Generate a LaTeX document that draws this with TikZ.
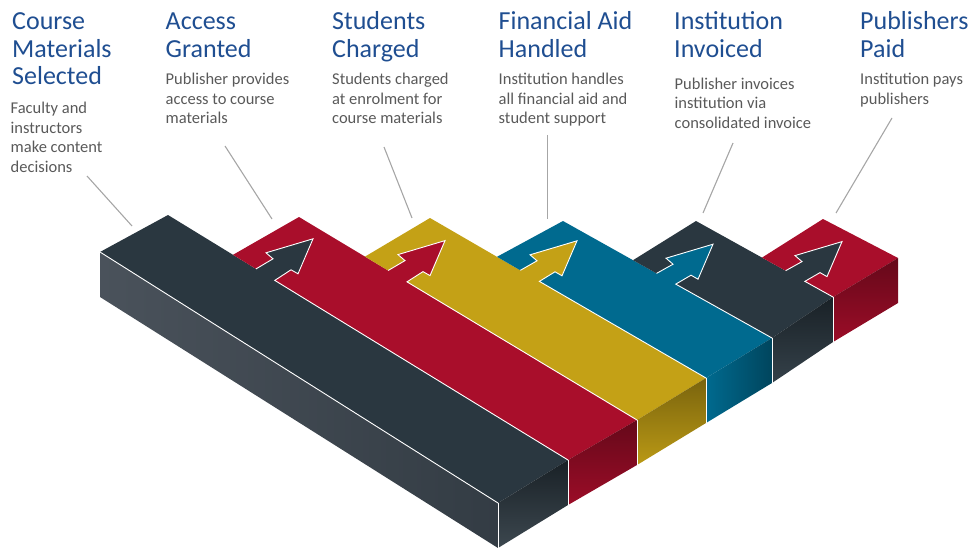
\documentclass[tikz,border=0pt]{standalone}
\usepackage{fontspec}
\setmainfont{Carlito}
\usetikzlibrary{calc}

\definecolor{headblue}{HTML}{1F4E91}
\definecolor{bodygrey}{HTML}{595959}
\definecolor{leadergrey}{HTML}{A6A6A6}
\definecolor{slate}{HTML}{2A3740}
\definecolor{crimson}{HTML}{A90E2B}
\definecolor{ochre}{HTML}{C4A116}
\definecolor{barblue}{HTML}{006A8F}
\definecolor{sideA}{HTML}{4A525B}
\definecolor{sideB}{HTML}{3D4A52}
\definecolor{sideC}{HTML}{333C44}

% stacked lines whose baseline is the baseline of the first line
\newcommand\rows[1]{\vtop{\lineskiplimit=-40pt\lineskip=0pt\halign{##\hfil\cr#1\crcr}}}

\tikzset{
  heading/.style={font=\fontsize{26}{27.5}\selectfont, text=headblue, inner sep=0pt, anchor=base west},
  blurb/.style={font=\fontsize{16.5}{19.5}\selectfont, text=bodygrey, inner sep=0pt, anchor=base west},
  leader/.style={draw=leadergrey, line width=1.1pt},
  seam/.style={draw=white, line width=0.9pt, line join=miter},
  rf0/.style={top color=black!40!slate, bottom color=slate!90!white!95!black},
  rf1/.style={top color=crimson!60!black, bottom color=crimson!92!black},
  rf2/.style={top color=ochre!62!black, bottom color=ochre!95!black},
  rf3/.style={left color=barblue, right color=barblue!65!black},
  rf4/.style={top color=black!40!slate, bottom color=slate!95!white},
  rf5/.style={top color=crimson!60!black, bottom color=crimson!92!black},
}

\begin{document}
\begin{tikzpicture}[x=1pt,y=-1pt]
\useasboundingbox (0,0) rectangle (971,548);

% corners of the top faces: back-left, back-right, front-left, front-right
\coordinate (BL0) at (100,252);   \coordinate (BR0) at (168,215);
\coordinate (FL0) at (498,503);   \coordinate (FR0) at (568,460);
\coordinate (BL1) at (233,254.8); \coordinate (BR1) at (299,217);
\coordinate (FL1) at (568,460);   \coordinate (FR1) at (637,420);
\coordinate (BL2) at (365,256.6); \coordinate (BR2) at (430,218);
\coordinate (FL2) at (637,420);   \coordinate (FR2) at (706,378);
\coordinate (BL3) at (497,256.8); \coordinate (BR3) at (563,221);
\coordinate (FL3) at (706,378);   \coordinate (FR3) at (772,338);
\coordinate (BL4) at (633,260.2); \coordinate (BR4) at (696,221);
\coordinate (FL4) at (772,338);   \coordinate (FR4) at (833,297);
\coordinate (BL5) at (762,257.6); \coordinate (BR5) at (823,219);
\coordinate (FL5) at (833,297);   \coordinate (FR5) at (898,258);

% top faces
\foreach \i/\c in {0/slate,1/crimson,2/ochre,3/barblue,4/slate,5/crimson}
  \fill[\c] (BL\i) -- (BR\i) -- (FR\i) -- (FL\i) -- cycle;

% front-right faces
\foreach \i in {0,...,5}
  \shade[rf\i] (FL\i) -- (FR\i) -- ($(FR\i)+(0,45)$) -- ($(FL\i)+(0,45)$) -- cycle;

% long front face of the first slab
\shade[left color=sideA, middle color=sideB, right color=sideC]
  (BL0) -- (FL0) -- ($(FL0)+(0,45)$) -- ($(BL0)+(0,45)$) -- cycle;

% hand-over arrows, each in the colour of the slab before
\foreach \i/\c in {1/slate,2/crimson,3/ochre,4/barblue,5/slate}{
  \coordinate (aL) at ($(BL\i)!27pt!(FL\i)$);
  \coordinate (aR) at ($(BL\i)!49pt!(FL\i)$);
  \coordinate (nL) at ($(BL\i)+(40,4)$);
  \coordinate (bL) at ($(BL\i)+(33,-2)$);
  \coordinate (tp) at ($(BL\i)+(80,-16)$);
  \coordinate (bR) at ($(BL\i)+(65,19)$);
  \coordinate (nR) at ($(BL\i)+(58,15)$);
  \fill[\c] ($(aL)+(-4,3)$) -- (aL) -- (nL) -- (bL) -- (tp) -- (bR) -- (nR) -- (aR) -- ($(aR)+(-4,3)$) -- cycle;
  \draw[seam] (aL) -- (nL) -- (bL) -- (tp) -- (bR) -- (nR) -- (aR) -- (FL\i);
}

% white edges
\draw[seam] (BL0) -- (FL0);
\foreach \i in {0,...,5}
  \draw[seam] (FL\i) -- ($(FL\i)+(0,45)$);

% headings and descriptions
\node[heading] (h1) at (12,30)    {\rows{Course\cr Materials\cr Selected}};
\node[heading] (h2) at (165.5,30) {\rows{Access\cr Granted}};
\node[heading] (h3) at (332,30)   {\rows{Students\cr Charged}};
\node[heading] (h4) at (498.5,30) {\rows{Financial Aid\cr Handled}};
\node[heading] (h5) at (674,30)   {\rows{Institution\cr Invoiced}};
\node[heading] (h6) at (860,30)   {\rows{Publishers\cr Paid}};

\node[blurb] (d1) at (10.5,114)  {\rows{Faculty and\cr instructors\cr make content\cr decisions}};
\node[blurb] (d2) at (165.5,85)  {\rows{Publisher provides\cr access to course\cr materials}};
\node[blurb] (d3) at (332,85)    {\rows{Students charged\cr at enrolment for\cr course materials}};
\node[blurb] (d4) at (498.5,85)  {\rows{Institution handles\cr all financial aid and\cr student support}};
\node[blurb] (d5) at (674.5,89.5){\rows{Publisher invoices\cr institution via\cr consolidated invoice}};
\node[blurb] (d6) at (860,85)    {\rows{Institution pays\cr publishers}};

% leader lines from the descriptions to the slabs
\coordinate (p1) at (87,176);    \coordinate (q1) at (132,226);
\coordinate (p2) at (225,146);   \coordinate (q2) at (272,219);
\coordinate (p3) at (384,147);   \coordinate (q3) at (412,218);
\coordinate (p4) at (547.5,135); \coordinate (q4) at (547.5,219);
\coordinate (p5) at (733,143);   \coordinate (q5) at (703,213);
\coordinate (p6) at (892,118);   \coordinate (q6) at (836,213);
\foreach \i in {1,...,6}
  \draw[leader] (p\i) -- (q\i);
\end{tikzpicture}
\end{document}
